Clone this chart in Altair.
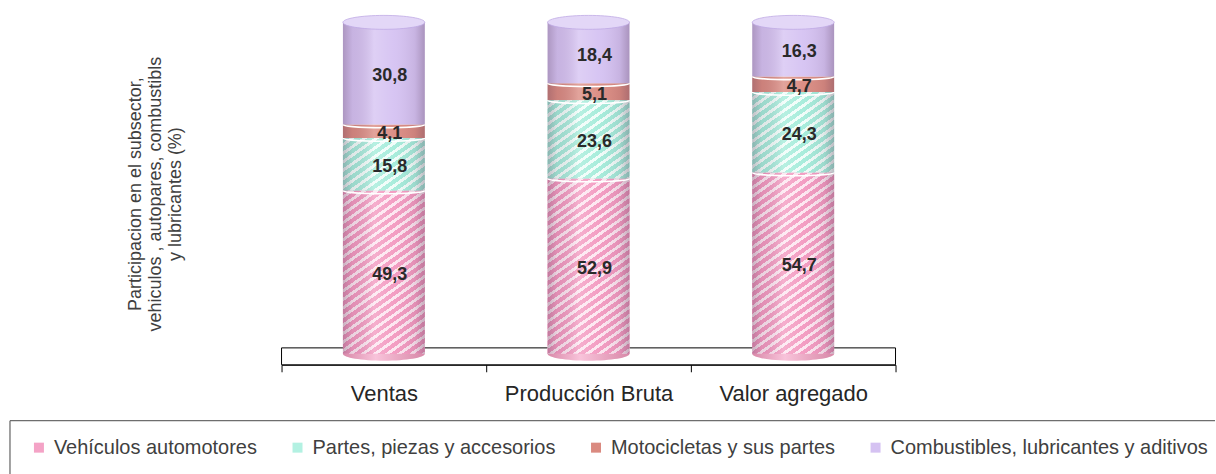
import math

import altair as alt
import pandas as pd

# --- datos ---------------------------------------------------------------
categorias = ["Ventas", "Producción Bruta", "Valor agregado"]
series = [
    "Vehículos automotores",
    "Partes, piezas y accesorios",
    "Motocicletas y sus partes",
    "Combustibles, lubricantes y aditivos",
]
vehiculos = [49.3, 52.9, 54.7]
partes = [15.8, 23.6, 24.3]
motocicletas = [4.1, 5.1, 4.7]
combustibles = [30.8, 18.4, 16.3]

colores = ["#f4a3c6", "#b3f1e2", "#da8a80", "#d5c2f2"]
titulo_y = [
    "Participacion en el subsector,",
    "vehiculos  , autopares, combustibls",
    "y lubricantes (%)",
]

# --- geometría y estilo ---------------------------------------------------
FUENTE = "Liberation Sans"
ANCHO, ALTO = 615, 343
Y_MIN, Y_MAX = -3.3, 100.0
BARRA = 82
PX = ALTO / (Y_MAX - Y_MIN)
ELIPSE = "M -1 0 A 1 0.17 0 1 1 1 0 A 1 0.17 0 1 1 -1 0 Z"
ARCO = "M -1 0 A 1 0.08 0 0 0 1 0"

filas = []
for i, cat in enumerate(categorias):
    base = 0.0
    for serie, valores in zip(series, [vehiculos, partes, motocicletas, combustibles]):
        v = valores[i]
        filas.append(
            dict(
                categoria=cat,
                serie=serie,
                valor=v,
                inicio=base,
                fin=base + v,
                medio=base + v / 2,
                etiqueta=f"{v:.1f}".replace(".", ","),
            )
        )
        base += v
df = pd.DataFrame(filas)


def rayado(valor, c1, c2, angulo=35.0, periodo=7.0, fraccion=0.58):
    """Diagonal stripes (/) for a segment of the given value, as a linear gradient."""
    h = max(valor * PX, 1.0)
    w = float(BARRA)
    th = math.radians(angulo)
    ux, uy = math.sin(th) / h, math.cos(th) / w
    t = (ux + uy) / (ux * ux + uy * uy)
    n = (w * math.sin(th) + h * math.cos(th)) / periodo
    stops = []
    k = 0
    while k < n:
        a = k / n
        b = min((k + fraccion) / n, 1.0)
        c = min((k + 1) / n, 1.0)
        stops += [
            alt.GradientStop(offset=a, color=c1),
            alt.GradientStop(offset=b, color=c1),
            alt.GradientStop(offset=b, color=c2),
            alt.GradientStop(offset=c, color=c2),
        ]
        k += 1
    return alt.LinearGradient(
        gradient="linear", stops=stops, x1=0, y1=0, x2=t * ux, y2=t * uy
    )


sombra = alt.LinearGradient(
    gradient="linear",
    x1=0, y1=0, x2=1, y2=0,
    stops=[
        alt.GradientStop(offset=0, color="rgba(80,50,80,0.30)"),
        alt.GradientStop(offset=0.12, color="rgba(80,50,80,0.10)"),
        alt.GradientStop(offset=0.38, color="rgba(255,255,255,0.22)"),
        alt.GradientStop(offset=0.62, color="rgba(255,255,255,0.05)"),
        alt.GradientStop(offset=0.88, color="rgba(80,50,80,0.10)"),
        alt.GradientStop(offset=1, color="rgba(80,50,80,0.32)"),
    ],
)
fondo_rosa = alt.LinearGradient(
    gradient="linear",
    x1=0, y1=0, x2=1, y2=0,
    stops=[
        alt.GradientStop(offset=0, color="#d98aa9"),
        alt.GradientStop(offset=0.4, color="#f8c3da"),
        alt.GradientStop(offset=1, color="#d889a8"),
    ],
)

# --- codificaciones compartidas -----------------------------------------
eje_x = alt.Axis(
    title=None,
    labelAngle=0,
    labelFontSize=22,
    labelFont=FUENTE,
    labelColor="#262626",
    labelPadding=12,
    tickBand="extent",
    tickSize=7,
    tickColor="black",
    domainColor="black",
    grid=False,
)
eje_y = alt.Axis(
    title=titulo_y,
    domain=False,
    ticks=False,
    labels=False,
    grid=False,
    titleFont=FUENTE,
    titleFontSize=18,
    titleFontWeight="normal",
    titleColor="#404040",
    titleLineHeight=20,
    titlePadding=97,
)
escala_y = alt.Scale(domain=[Y_MIN, Y_MAX], nice=False, zero=False)
x_enc = alt.X(
    "categoria:N",
    sort=categorias,
    scale=alt.Scale(paddingInner=0, paddingOuter=0),
    axis=eje_x,
)


def y_de(campo):
    return alt.Y(f"{campo}:Q", scale=escala_y, axis=eje_y)


base = alt.Chart(df)
uno = pd.DataFrame({"k": [0]})

# Floor slab under the cylinders
piso = alt.Chart(uno).mark_rect(fill="white", stroke="black", strokeWidth=1).encode(
    x=alt.value(0), x2=alt.value(ANCHO), y=alt.datum(1.8), y2=alt.datum(Y_MIN)
)

# Rounded bottom of each cylinder
fondo = (
    base.transform_filter(alt.datum.serie == series[0])
    .mark_point(shape=ELIPSE, size=BARRA**2, filled=True, fill=fondo_rosa, opacity=1, strokeWidth=0)
    .encode(x=x_enc, y=y_de("inicio"))
)

# Stacked segments, coloured by series (these also feed the legend)
barras = base.mark_bar(width=BARRA).encode(
    x=x_enc,
    y=y_de("inicio"),
    y2="fin:Q",
    color=alt.Color(
        "serie:N",
        scale=alt.Scale(domain=series, range=colores),
        legend=alt.Legend(
            orient="none",
            legendX=-253,
            legendY=416,
            direction="horizontal",
            title=None,
            symbolType="square",
            symbolSize=100,
            symbolStrokeWidth=0,
            labelFont=FUENTE,
            labelFontSize=20,
            labelColor="#404040",
            labelOffset=5,
            labelLimit=0,
            columnPadding=30,
            padding=0,
        ),
    ),
)

# Striped textures for the two hatched series
rayas = []
texturas = {
    series[0]: ("#f399c0", "#fde6f0"),
    series[1]: ("#a4ecda", "#f0fdf9"),
}
for fila in filas:
    if fila["serie"] in texturas:
        c1, c2 = texturas[fila["serie"]]
        rayas.append(
            base.transform_filter(
                (alt.datum.serie == fila["serie"]) & (alt.datum.categoria == fila["categoria"])
            )
            .mark_bar(width=BARRA, fill=rayado(fila["valor"], c1, c2))
            .encode(x=x_enc, y=y_de("inicio"), y2="fin:Q")
        )

# Cylinder shading
brillo = base.mark_bar(width=BARRA, fill=sombra).encode(
    x=x_enc, y=y_de("inicio"), y2="fin:Q"
)

# Curved seams between segments
costuras = (
    base.transform_filter(alt.datum.serie != series[3])
    .mark_point(shape=ARCO, size=BARRA**2, filled=False, stroke="white", strokeWidth=1.6, opacity=1)
    .encode(x=x_enc, y=y_de("fin"))
)

# Top face of each cylinder
tapa = (
    base.transform_filter(alt.datum.serie == series[3])
    .mark_point(shape=ELIPSE, size=BARRA**2, filled=True, fill="#e3d7f7", stroke="#bfa9e4", strokeWidth=0.8, opacity=1)
    .encode(x=x_enc, y=y_de("fin"))
)

etiquetas = base.mark_text(
    font=FUENTE, fontSize=18, fontWeight="bold", color="#2a2a2a", dx=6, dy=3
).encode(x=x_enc, y=y_de("medio"), text="etiqueta:N")

# Frame around the legend
marco_sup = alt.Chart(uno).mark_rule(color="#6e6e6e", strokeWidth=1.3).encode(
    x=alt.value(-272), x2=alt.value(935), y=alt.value(399)
)
marco_izq = alt.Chart(uno).mark_rule(color="#6e6e6e", strokeWidth=1.3).encode(
    x=alt.value(-272), y=alt.value(399), y2=alt.value(453)
)

chart = (
    alt.layer(piso, fondo, barras, *rayas, brillo, costuras, tapa, etiquetas, marco_sup, marco_izq)
    .properties(
        width=ANCHO,
        height=ALTO,
        padding={"left": 9, "top": 13, "right": 0, "bottom": 0},
    )
    .configure_view(strokeWidth=0)
)

chart.save("out.html", embed_options={"renderer": "svg", "actions": False})
